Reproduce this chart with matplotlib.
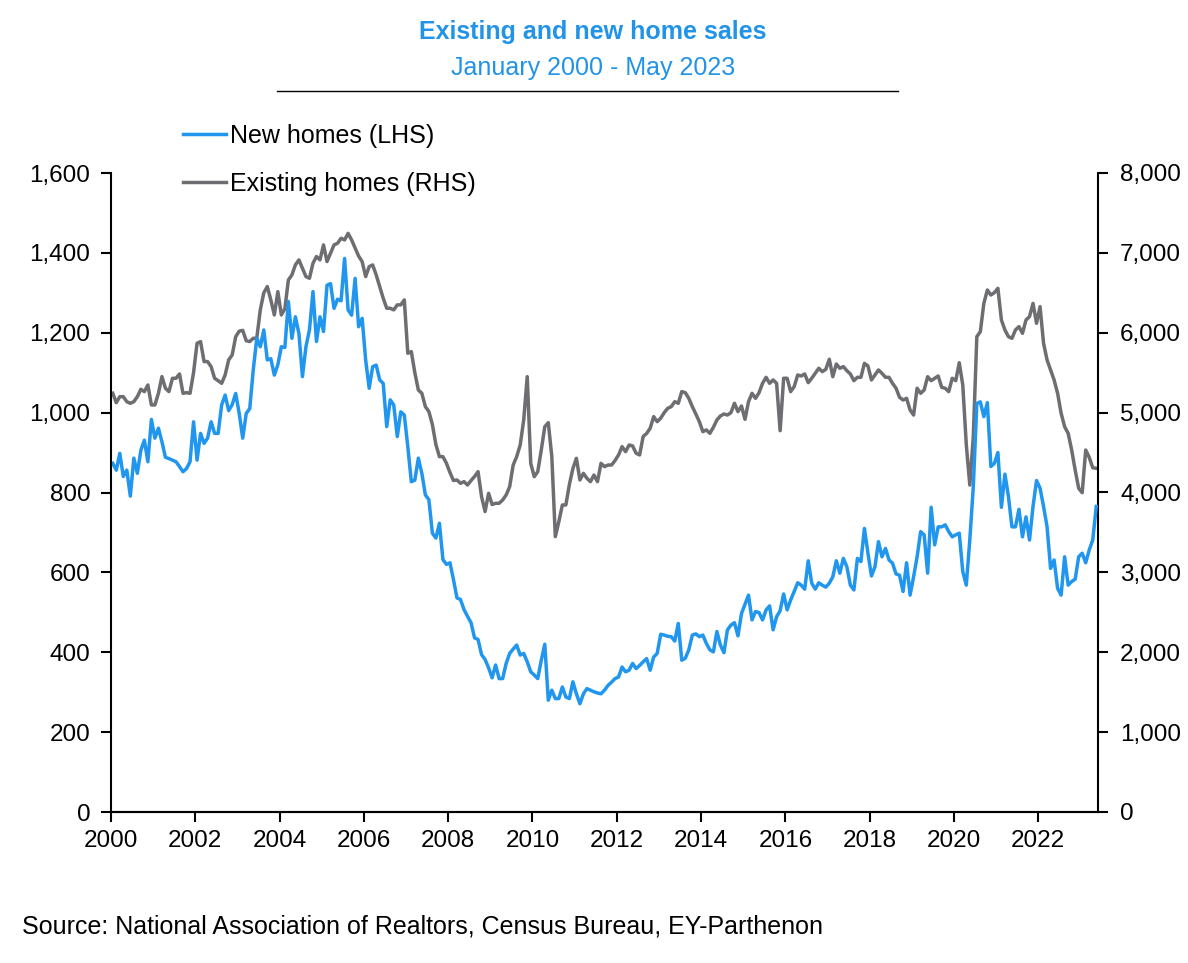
import matplotlib
matplotlib.use("Agg")
import matplotlib.pyplot as plt
from matplotlib.lines import Line2D
from matplotlib.ticker import FuncFormatter
import numpy as np

plt.rcParams['font.family'] = ['Liberation Sans', 'DejaVu Sans']

#### DATA (monthly, January 2000 - May 2023, thousands SAAR) ####

new_homes = [
    873, 856, 898, 840, 856, 791, 886, 848, 906, 931, 877, 983,          # 2000
    936, 961, 927, 888, 885, 881, 877, 865, 852, 860, 877, 977,          # 2001
    881, 948, 923, 936, 977, 948, 948, 1019, 1044, 1005, 1020, 1048,     # 2002
    998, 936, 998, 1010, 1107, 1186, 1165, 1207, 1132, 1135, 1094, 1120, # 2003
    1165, 1163, 1278, 1186, 1240, 1198, 1090, 1165, 1207, 1303, 1178, 1240,  # 2004
    1203, 1319, 1323, 1261, 1284, 1280, 1386, 1257, 1244, 1336, 1215, 1236,  # 2005
    1132, 1061, 1115, 1119, 1082, 1073, 965, 1032, 1019, 940, 1002, 994,     # 2006
    915, 827, 831, 886, 848, 794, 782, 698, 686, 723, 632, 620,          # 2007
    624, 582, 536, 532, 507, 490, 474, 436, 432, 394, 382, 361,          # 2008
    336, 368, 334, 334, 372, 397, 408, 418, 393, 397, 376, 351,          # 2009
    343, 334, 380, 420, 280, 305, 284, 284, 313, 288, 284, 326,          # 2010
    296, 271, 296, 309, 305, 301, 298, 296, 305, 317, 325, 334,          # 2011
    338, 363, 351, 355, 372, 359, 367, 376, 384, 355, 388, 397,          # 2012
    445, 443, 440, 439, 428, 472, 380, 385, 406, 443, 446, 439,          # 2013
    443, 422, 406, 401, 452, 418, 399, 456, 468, 474, 441, 497,          # 2014
    520, 543, 481, 502, 499, 481, 506, 516, 456, 489, 504, 546,          # 2015
    506, 531, 552, 574, 568, 558, 629, 573, 558, 574, 568, 563,          # 2016
    573, 589, 629, 598, 635, 614, 568, 556, 635, 627, 710, 648,          # 2017
    591, 614, 677, 639, 660, 631, 623, 596, 593, 552, 624, 543,          # 2018
    589, 639, 702, 694, 598, 763, 669, 714, 714, 719, 702, 689,          # 2019
    694, 698, 602, 568, 681, 815, 1023, 1027, 990, 1025, 865, 873,       # 2020
    900, 763, 846, 790, 714, 714, 758, 689, 739, 681, 765, 830,          # 2021
    811, 765, 714, 610, 631, 560, 543, 639, 568, 577, 583, 639,          # 2022
    648, 624, 656, 681, 765,                                             # 2023
]

existing_homes = [
    5242, 5125, 5200, 5200, 5137, 5117, 5137, 5200, 5292, 5263, 5346, 5096,  # 2000
    5096, 5242, 5451, 5305, 5263, 5430, 5430, 5484, 5242, 5250, 5242, 5500,  # 2001
    5868, 5889, 5639, 5639, 5576, 5430, 5400, 5367, 5472, 5660, 5722, 5950,  # 2002
    6020, 6030, 5900, 5890, 5931, 5931, 6286, 6500, 6578, 6411, 6223, 6515,  # 2003
    6223, 6300, 6661, 6724, 6850, 6912, 6807, 6703, 6682, 6870, 6954, 6912,  # 2004
    7100, 6891, 6995, 7100, 7120, 7183, 7162, 7245, 7162, 7060, 6960, 6891,  # 2005
    6703, 6828, 6849, 6724, 6578, 6432, 6307, 6307, 6286, 6349, 6349, 6411,  # 2006
    5743, 5764, 5500, 5284, 5242, 5075, 5013, 4850, 4600, 4449, 4449, 4366,  # 2007
    4250, 4150, 4157, 4115, 4136, 4094, 4150, 4200, 4261, 3948, 3761, 3990,  # 2008
    3850, 3865, 3865, 3906, 3969, 4073, 4344, 4449, 4595, 4908, 5450, 4365,  # 2009
    4198, 4261, 4532, 4824, 4874, 4449, 3447, 3635, 3844, 3844, 4100, 4300,  # 2010
    4428, 4157, 4240, 4177, 4136, 4219, 4136, 4365, 4324, 4344, 4344, 4400,  # 2011
    4470, 4574, 4511, 4595, 4583, 4491, 4470, 4700, 4740, 4804, 4950, 4887,  # 2012
    4930, 5000, 5054, 5075, 5137, 5117, 5263, 5250, 5179, 5075, 4983, 4887,  # 2013
    4762, 4783, 4741, 4816, 4908, 4958, 4983, 4970, 5000, 5117, 5012, 5083,  # 2014
    4916, 5137, 5242, 5179, 5250, 5367, 5442, 5367, 5409, 5367, 4774, 5430,  # 2015
    5430, 5263, 5325, 5471, 5459, 5484, 5375, 5430, 5492, 5555, 5513, 5542,  # 2016
    5668, 5450, 5609, 5555, 5576, 5525, 5484, 5400, 5442, 5442, 5617, 5584,  # 2017
    5409, 5471, 5534, 5492, 5442, 5442, 5367, 5305, 5192, 5158, 5179, 5033,  # 2018
    4970, 5305, 5242, 5283, 5450, 5400, 5430, 5459, 5317, 5305, 5263, 5430,  # 2019
    5400, 5625, 5346, 4600, 4094, 4700, 5951, 6014, 6368, 6535, 6473, 6502,  # 2020
    6556, 6160, 6035, 5951, 5930, 6035, 6077, 5993, 6160, 6202, 6368, 6118,  # 2021
    6327, 5868, 5659, 5534, 5409, 5242, 4992, 4824, 4741, 4532, 4282, 4052,  # 2022
    3998, 4532, 4440, 4310, 4303,                                            # 2023
]

year_ticks = [2000, 2002, 2004, 2006, 2008, 2010, 2012, 2014, 2016, 2018, 2020, 2022]
left_ticks = [0, 200, 400, 600, 800, 1000, 1200, 1400, 1600]
right_ticks = [0, 1000, 2000, 3000, 4000, 5000, 6000, 7000, 8000]

###############################################################################

blue = '#2196EE'
grey = '#6D6D72'
title_blue = '#2193E8'

n = len(new_homes)
# each month sits in the middle of its own slot on the category axis
x = 2000 + (np.arange(n) + 0.5) / 12

fig = plt.figure(figsize=(11.88, 9.63), dpi=100)
ax = fig.add_axes([111/1188, 1 - 812/963, 987/1188, 639/963])
ax2 = ax.twinx()

ln1, = ax.plot(x, new_homes, color=blue, lw=2.5, label='New homes (LHS)')
ln2, = ax2.plot(x, existing_homes, color=grey, lw=2.5, label='Existing homes (RHS)')

# new homes drawn on top
ax.set_zorder(ax2.get_zorder() + 1)
ax.patch.set_visible(False)

ax.set_xlim(2000, 2000 + n / 12)
ax.set_ylim(0, 1600)
ax2.set_ylim(0, 8000)
ax.set_xticks(year_ticks)
ax.set_xticklabels([str(y) for y in year_ticks])
ax.set_yticks(left_ticks)
ax2.set_yticks(right_ticks)

fmt = FuncFormatter(lambda v, p: '{:,.0f}'.format(v))
ax.yaxis.set_major_formatter(fmt)
ax2.yaxis.set_major_formatter(fmt)

for a in (ax, ax2):
    a.spines['top'].set_visible(False)
    for s in ('left', 'right', 'bottom'):
        a.spines[s].set_linewidth(1.5)
        a.spines[s].set_color('black')
    a.tick_params(axis='both', direction='out', length=7, width=1.5,
                  labelsize=17.5, colors='black')
ax.spines['right'].set_visible(False)
ax2.spines['left'].set_visible(False)
ax.tick_params(axis='y', pad=8)
ax.tick_params(axis='x', pad=6)
ax2.tick_params(axis='y', pad=9)

# legend, top left inside the plot
fig.legend(handles=[ln1, ln2], loc='upper left',
           bbox_to_anchor=(183/1188, 1 - 124/963), frameon=False,
           fontsize=18, handlelength=1.7, handletextpad=0.2,
           labelspacing=0.95, borderpad=0, borderaxespad=0)

# titles
fig.text(593/1188, 1 - 32/963, 'Existing and new home sales', color=title_blue,
         fontsize=18, fontweight='bold', ha='center', va='center')
fig.text(593/1188, 1 - 68/963, 'January 2000 - May 2023', color=title_blue,
         fontsize=18, ha='center', va='center')
fig.add_artist(Line2D([277/1188, 898/1188], [1 - 91/963, 1 - 91/963],
                      color='black', lw=1.0))

fig.text(22/1188, 1 - 926/963,
         'Source: National Association of Realtors, Census Bureau, EY-Parthenon',
         fontsize=18, ha='left', va='center')

fig.savefig('out.png', dpi=100)
